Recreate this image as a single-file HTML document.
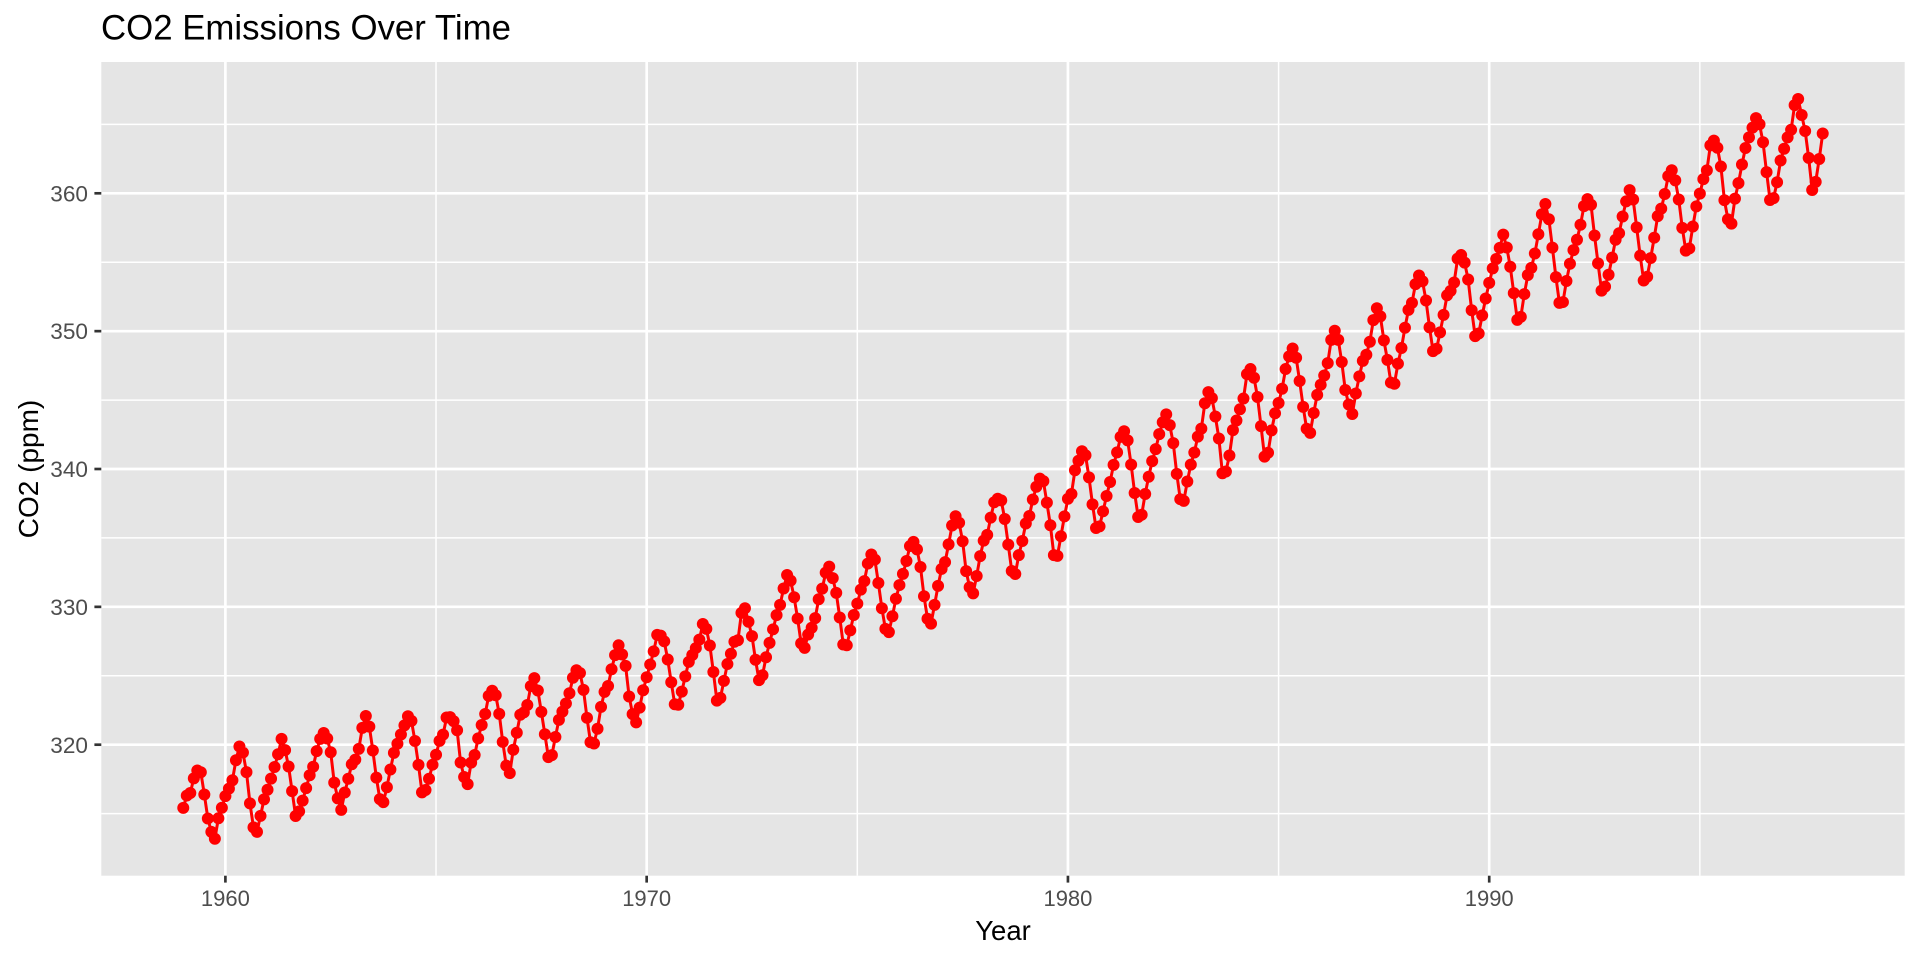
<!DOCTYPE html>
<html>
<head>
<meta charset="utf-8">
<style>
html,body{margin:0;padding:0;background:#fff;}
svg{display:block;}
text{font-family:"Liberation Sans",Arial,Helvetica,sans-serif;}
</style>
</head>
<body>
<svg width="1920" height="960" viewBox="0 0 1920 960" xmlns="http://www.w3.org/2000/svg">
<rect x="0" y="0" width="1920" height="960" fill="#ffffff"/>
<!-- panel -->
<rect x="101.3" y="62" width="1803.4" height="813.7" fill="#E5E5E5"/>
<!-- minor grid -->
<g stroke="#ffffff" stroke-width="1.5" fill="none">
<line x1="101.3" x2="1904.7" y1="813.6" y2="813.6"/>
<line x1="101.3" x2="1904.7" y1="675.8" y2="675.8"/>
<line x1="101.3" x2="1904.7" y1="537.9" y2="537.9"/>
<line x1="101.3" x2="1904.7" y1="400.1" y2="400.1"/>
<line x1="101.3" x2="1904.7" y1="262.2" y2="262.2"/>
<line x1="101.3" x2="1904.7" y1="124.4" y2="124.4"/>
<line y1="62" y2="875.7" x1="436.03" x2="436.03"/>
<line y1="62" y2="875.7" x1="857.3" x2="857.3"/>
<line y1="62" y2="875.7" x1="1278.6" x2="1278.6"/>
<line y1="62" y2="875.7" x1="1699.85" x2="1699.85"/>
</g>
<!-- major grid -->
<g stroke="#ffffff" stroke-width="2.67" fill="none">
<line x1="101.3" x2="1904.7" y1="744.7" y2="744.7"/>
<line x1="101.3" x2="1904.7" y1="606.85" y2="606.85"/>
<line x1="101.3" x2="1904.7" y1="469.0" y2="469.0"/>
<line x1="101.3" x2="1904.7" y1="331.15" y2="331.15"/>
<line x1="101.3" x2="1904.7" y1="193.3" y2="193.3"/>
<line y1="62" y2="875.7" x1="225.4" x2="225.4"/>
<line y1="62" y2="875.7" x1="646.67" x2="646.67"/>
<line y1="62" y2="875.7" x1="1067.94" x2="1067.94"/>
<line y1="62" y2="875.7" x1="1489.21" x2="1489.21"/>
</g>
<!-- data -->
<g transform="matrix(3.51058 0 0 -13.785 183.27 5155.9)">
<polyline fill="none" stroke="#FF0000" stroke-width="3" stroke-linejoin="round" stroke-linecap="butt" vector-effect="non-scaling-stroke" points="0,315.42 1,316.31 2,316.50 3,317.56 4,318.13 5,318.00 6,316.39 7,314.65 8,313.68 9,313.18 10,314.66 11,315.43 12,316.27 13,316.81 14,317.42 15,318.87 16,319.87 17,319.43 18,318.01 19,315.74 20,314.00 21,313.68 22,314.84 23,316.03 24,316.73 25,317.54 26,318.38 27,319.31 28,320.42 29,319.61 30,318.42 31,316.63 32,314.83 33,315.16 34,315.94 35,316.85 36,317.78 37,318.40 38,319.53 39,320.42 40,320.85 41,320.45 42,319.45 43,317.25 44,316.11 45,315.27 46,316.53 47,317.53 48,318.58 49,318.92 50,319.70 51,321.22 52,322.08 53,321.31 54,319.58 55,317.61 56,316.05 57,315.83 58,316.91 59,318.20 60,319.41 61,320.07 62,320.74 63,321.40 64,322.06 65,321.73 66,320.27 67,318.54 68,316.54 69,316.71 70,317.53 71,318.55 72,319.27 73,320.28 74,320.73 75,321.97 76,322.00 77,321.71 78,321.05 79,318.71 80,317.66 81,317.14 82,318.70 83,319.25 84,320.46 85,321.43 86,322.23 87,323.54 88,323.91 89,323.59 90,322.24 91,320.20 92,318.48 93,317.94 94,319.63 95,320.87 96,322.17 97,322.34 98,322.88 99,324.25 100,324.83 101,323.93 102,322.38 103,320.76 104,319.10 105,319.24 106,320.56 107,321.80 108,322.40 109,322.99 110,323.73 111,324.86 112,325.40 113,325.20 114,323.98 115,321.95 116,320.18 117,320.09 118,321.16 119,322.74 120,323.83 121,324.26 122,325.47 123,326.50 124,327.21 125,326.54 126,325.72 127,323.50 128,322.22 129,321.62 130,322.69 131,323.95 132,324.89 133,325.82 134,326.77 135,327.97 136,327.91 137,327.50 138,326.18 139,324.53 140,322.93 141,322.90 142,323.85 143,324.96 144,326.01 145,326.51 146,327.01 147,327.62 148,328.76 149,328.40 150,327.20 151,325.27 152,323.20 153,323.40 154,324.63 155,325.85 156,326.60 157,327.47 158,327.58 159,329.56 160,329.90 161,328.92 162,327.88 163,326.16 164,324.68 165,325.04 166,326.34 167,327.39 168,328.37 169,329.40 170,330.14 171,331.33 172,332.31 173,331.90 174,330.70 175,329.15 176,327.35 177,327.02 178,327.99 179,328.48 180,329.18 181,330.55 182,331.32 183,332.48 184,332.92 185,332.08 186,331.01 187,329.23 188,327.27 189,327.21 190,328.29 191,329.41 192,330.23 193,331.25 194,331.87 195,333.14 196,333.80 197,333.43 198,331.73 199,329.90 200,328.40 201,328.17 202,329.32 203,330.59 204,331.58 205,332.39 206,333.33 207,334.41 208,334.71 209,334.17 210,332.89 211,330.77 212,329.14 213,328.78 214,330.14 215,331.52 216,332.75 217,333.24 218,334.53 219,335.90 220,336.57 221,336.10 222,334.76 223,332.59 224,331.42 225,330.98 226,332.24 227,333.68 228,334.80 229,335.22 230,336.47 231,337.59 232,337.84 233,337.72 234,336.37 235,334.51 236,332.60 237,332.38 238,333.75 239,334.78 240,336.05 241,336.59 242,337.79 243,338.71 244,339.30 245,339.12 246,337.56 247,335.92 248,333.75 249,333.70 250,335.12 251,336.56 252,337.84 253,338.19 254,339.91 255,340.60 256,341.29 257,341.00 258,339.39 259,337.43 260,335.72 261,335.84 262,336.93 263,338.04 264,339.06 265,340.30 266,341.21 267,342.33 268,342.74 269,342.08 270,340.32 271,338.26 272,336.52 273,336.68 274,338.19 275,339.44 276,340.57 277,341.44 278,342.53 279,343.39 280,343.96 281,343.18 282,341.88 283,339.65 284,337.81 285,337.69 286,339.09 287,340.32 288,341.20 289,342.35 290,342.93 291,344.77 292,345.58 293,345.14 294,343.81 295,342.21 296,339.69 297,339.82 298,340.98 299,342.82 300,343.52 301,344.33 302,345.11 303,346.88 304,347.25 305,346.62 306,345.22 307,343.11 308,340.90 309,341.18 310,342.80 311,344.04 312,344.79 313,345.82 314,347.25 315,348.17 316,348.74 317,348.07 318,346.38 319,344.51 320,342.92 321,342.62 322,344.06 323,345.38 324,346.11 325,346.78 326,347.68 327,349.37 328,350.03 329,349.37 330,347.76 331,345.73 332,344.68 333,343.99 334,345.48 335,346.72 336,347.84 337,348.29 338,349.23 339,350.80 340,351.66 341,351.07 342,349.33 343,347.92 344,346.27 345,346.18 346,347.64 347,348.78 348,350.25 349,351.54 350,352.05 351,353.41 352,354.04 353,353.62 354,352.22 355,350.27 356,348.55 357,348.72 358,349.91 359,351.18 360,352.60 361,352.92 362,353.53 363,355.26 364,355.52 365,354.97 366,353.75 367,351.52 368,349.64 369,349.83 370,351.14 371,352.37 372,353.50 373,354.55 374,355.23 375,356.04 376,357.00 377,356.07 378,354.67 379,352.76 380,350.82 381,351.04 382,352.69 383,354.07 384,354.59 385,355.63 386,357.03 387,358.48 388,359.22 389,358.12 390,356.06 391,353.92 392,352.05 393,352.11 394,353.64 395,354.89 396,355.88 397,356.63 398,357.72 399,359.07 400,359.58 401,359.17 402,356.94 403,354.92 404,352.94 405,353.23 406,354.09 407,355.33 408,356.63 409,357.10 410,358.32 411,359.41 412,360.23 413,359.55 414,357.53 415,355.48 416,353.67 417,353.95 418,355.30 419,356.78 420,358.34 421,358.89 422,359.95 423,361.25 424,361.67 425,360.94 426,359.55 427,357.49 428,355.84 429,356.00 430,357.59 431,359.05 432,359.98 433,361.03 434,361.66 435,363.48 436,363.82 437,363.30 438,361.94 439,359.50 440,358.11 441,357.80 442,359.61 443,360.74 444,362.09 445,363.29 446,364.06 447,364.76 448,365.45 449,365.01 450,363.70 451,361.54 452,359.51 453,359.65 454,360.80 455,362.38 456,363.23 457,364.06 458,364.61 459,366.40 460,366.84 461,365.68 462,364.52 463,362.57 464,360.24 465,360.83 466,362.49 467,364.34"/>
<path fill="none" stroke="#FF0000" stroke-width="12" stroke-linecap="round" vector-effect="non-scaling-stroke" d="M0 315.42h.002M1 316.31h.002M2 316.50h.002M3 317.56h.002M4 318.13h.002M5 318.00h.002M6 316.39h.002M7 314.65h.002M8 313.68h.002M9 313.18h.002M10 314.66h.002M11 315.43h.002M12 316.27h.002M13 316.81h.002M14 317.42h.002M15 318.87h.002M16 319.87h.002M17 319.43h.002M18 318.01h.002M19 315.74h.002M20 314.00h.002M21 313.68h.002M22 314.84h.002M23 316.03h.002M24 316.73h.002M25 317.54h.002M26 318.38h.002M27 319.31h.002M28 320.42h.002M29 319.61h.002M30 318.42h.002M31 316.63h.002M32 314.83h.002M33 315.16h.002M34 315.94h.002M35 316.85h.002M36 317.78h.002M37 318.40h.002M38 319.53h.002M39 320.42h.002M40 320.85h.002M41 320.45h.002M42 319.45h.002M43 317.25h.002M44 316.11h.002M45 315.27h.002M46 316.53h.002M47 317.53h.002M48 318.58h.002M49 318.92h.002M50 319.70h.002M51 321.22h.002M52 322.08h.002M53 321.31h.002M54 319.58h.002M55 317.61h.002M56 316.05h.002M57 315.83h.002M58 316.91h.002M59 318.20h.002M60 319.41h.002M61 320.07h.002M62 320.74h.002M63 321.40h.002M64 322.06h.002M65 321.73h.002M66 320.27h.002M67 318.54h.002M68 316.54h.002M69 316.71h.002M70 317.53h.002M71 318.55h.002M72 319.27h.002M73 320.28h.002M74 320.73h.002M75 321.97h.002M76 322.00h.002M77 321.71h.002M78 321.05h.002M79 318.71h.002M80 317.66h.002M81 317.14h.002M82 318.70h.002M83 319.25h.002M84 320.46h.002M85 321.43h.002M86 322.23h.002M87 323.54h.002M88 323.91h.002M89 323.59h.002M90 322.24h.002M91 320.20h.002M92 318.48h.002M93 317.94h.002M94 319.63h.002M95 320.87h.002M96 322.17h.002M97 322.34h.002M98 322.88h.002M99 324.25h.002M100 324.83h.002M101 323.93h.002M102 322.38h.002M103 320.76h.002M104 319.10h.002M105 319.24h.002M106 320.56h.002M107 321.80h.002M108 322.40h.002M109 322.99h.002M110 323.73h.002M111 324.86h.002M112 325.40h.002M113 325.20h.002M114 323.98h.002M115 321.95h.002M116 320.18h.002M117 320.09h.002M118 321.16h.002M119 322.74h.002M120 323.83h.002M121 324.26h.002M122 325.47h.002M123 326.50h.002M124 327.21h.002M125 326.54h.002M126 325.72h.002M127 323.50h.002M128 322.22h.002M129 321.62h.002M130 322.69h.002M131 323.95h.002M132 324.89h.002M133 325.82h.002M134 326.77h.002M135 327.97h.002M136 327.91h.002M137 327.50h.002M138 326.18h.002M139 324.53h.002M140 322.93h.002M141 322.90h.002M142 323.85h.002M143 324.96h.002M144 326.01h.002M145 326.51h.002M146 327.01h.002M147 327.62h.002M148 328.76h.002M149 328.40h.002M150 327.20h.002M151 325.27h.002M152 323.20h.002M153 323.40h.002M154 324.63h.002M155 325.85h.002M156 326.60h.002M157 327.47h.002M158 327.58h.002M159 329.56h.002M160 329.90h.002M161 328.92h.002M162 327.88h.002M163 326.16h.002M164 324.68h.002M165 325.04h.002M166 326.34h.002M167 327.39h.002M168 328.37h.002M169 329.40h.002M170 330.14h.002M171 331.33h.002M172 332.31h.002M173 331.90h.002M174 330.70h.002M175 329.15h.002M176 327.35h.002M177 327.02h.002M178 327.99h.002M179 328.48h.002M180 329.18h.002M181 330.55h.002M182 331.32h.002M183 332.48h.002M184 332.92h.002M185 332.08h.002M186 331.01h.002M187 329.23h.002M188 327.27h.002M189 327.21h.002M190 328.29h.002M191 329.41h.002M192 330.23h.002M193 331.25h.002M194 331.87h.002M195 333.14h.002M196 333.80h.002M197 333.43h.002M198 331.73h.002M199 329.90h.002M200 328.40h.002M201 328.17h.002M202 329.32h.002M203 330.59h.002M204 331.58h.002M205 332.39h.002M206 333.33h.002M207 334.41h.002M208 334.71h.002M209 334.17h.002M210 332.89h.002M211 330.77h.002M212 329.14h.002M213 328.78h.002M214 330.14h.002M215 331.52h.002M216 332.75h.002M217 333.24h.002M218 334.53h.002M219 335.90h.002M220 336.57h.002M221 336.10h.002M222 334.76h.002M223 332.59h.002M224 331.42h.002M225 330.98h.002M226 332.24h.002M227 333.68h.002M228 334.80h.002M229 335.22h.002M230 336.47h.002M231 337.59h.002M232 337.84h.002M233 337.72h.002M234 336.37h.002M235 334.51h.002M236 332.60h.002M237 332.38h.002M238 333.75h.002M239 334.78h.002M240 336.05h.002M241 336.59h.002M242 337.79h.002M243 338.71h.002M244 339.30h.002M245 339.12h.002M246 337.56h.002M247 335.92h.002M248 333.75h.002M249 333.70h.002M250 335.12h.002M251 336.56h.002M252 337.84h.002M253 338.19h.002M254 339.91h.002M255 340.60h.002M256 341.29h.002M257 341.00h.002M258 339.39h.002M259 337.43h.002M260 335.72h.002M261 335.84h.002M262 336.93h.002M263 338.04h.002M264 339.06h.002M265 340.30h.002M266 341.21h.002M267 342.33h.002M268 342.74h.002M269 342.08h.002M270 340.32h.002M271 338.26h.002M272 336.52h.002M273 336.68h.002M274 338.19h.002M275 339.44h.002M276 340.57h.002M277 341.44h.002M278 342.53h.002M279 343.39h.002M280 343.96h.002M281 343.18h.002M282 341.88h.002M283 339.65h.002M284 337.81h.002M285 337.69h.002M286 339.09h.002M287 340.32h.002M288 341.20h.002M289 342.35h.002M290 342.93h.002M291 344.77h.002M292 345.58h.002M293 345.14h.002M294 343.81h.002M295 342.21h.002M296 339.69h.002M297 339.82h.002M298 340.98h.002M299 342.82h.002M300 343.52h.002M301 344.33h.002M302 345.11h.002M303 346.88h.002M304 347.25h.002M305 346.62h.002M306 345.22h.002M307 343.11h.002M308 340.90h.002M309 341.18h.002M310 342.80h.002M311 344.04h.002M312 344.79h.002M313 345.82h.002M314 347.25h.002M315 348.17h.002M316 348.74h.002M317 348.07h.002M318 346.38h.002M319 344.51h.002M320 342.92h.002M321 342.62h.002M322 344.06h.002M323 345.38h.002M324 346.11h.002M325 346.78h.002M326 347.68h.002M327 349.37h.002M328 350.03h.002M329 349.37h.002M330 347.76h.002M331 345.73h.002M332 344.68h.002M333 343.99h.002M334 345.48h.002M335 346.72h.002M336 347.84h.002M337 348.29h.002M338 349.23h.002M339 350.80h.002M340 351.66h.002M341 351.07h.002M342 349.33h.002M343 347.92h.002M344 346.27h.002M345 346.18h.002M346 347.64h.002M347 348.78h.002M348 350.25h.002M349 351.54h.002M350 352.05h.002M351 353.41h.002M352 354.04h.002M353 353.62h.002M354 352.22h.002M355 350.27h.002M356 348.55h.002M357 348.72h.002M358 349.91h.002M359 351.18h.002M360 352.60h.002M361 352.92h.002M362 353.53h.002M363 355.26h.002M364 355.52h.002M365 354.97h.002M366 353.75h.002M367 351.52h.002M368 349.64h.002M369 349.83h.002M370 351.14h.002M371 352.37h.002M372 353.50h.002M373 354.55h.002M374 355.23h.002M375 356.04h.002M376 357.00h.002M377 356.07h.002M378 354.67h.002M379 352.76h.002M380 350.82h.002M381 351.04h.002M382 352.69h.002M383 354.07h.002M384 354.59h.002M385 355.63h.002M386 357.03h.002M387 358.48h.002M388 359.22h.002M389 358.12h.002M390 356.06h.002M391 353.92h.002M392 352.05h.002M393 352.11h.002M394 353.64h.002M395 354.89h.002M396 355.88h.002M397 356.63h.002M398 357.72h.002M399 359.07h.002M400 359.58h.002M401 359.17h.002M402 356.94h.002M403 354.92h.002M404 352.94h.002M405 353.23h.002M406 354.09h.002M407 355.33h.002M408 356.63h.002M409 357.10h.002M410 358.32h.002M411 359.41h.002M412 360.23h.002M413 359.55h.002M414 357.53h.002M415 355.48h.002M416 353.67h.002M417 353.95h.002M418 355.30h.002M419 356.78h.002M420 358.34h.002M421 358.89h.002M422 359.95h.002M423 361.25h.002M424 361.67h.002M425 360.94h.002M426 359.55h.002M427 357.49h.002M428 355.84h.002M429 356.00h.002M430 357.59h.002M431 359.05h.002M432 359.98h.002M433 361.03h.002M434 361.66h.002M435 363.48h.002M436 363.82h.002M437 363.30h.002M438 361.94h.002M439 359.50h.002M440 358.11h.002M441 357.80h.002M442 359.61h.002M443 360.74h.002M444 362.09h.002M445 363.29h.002M446 364.06h.002M447 364.76h.002M448 365.45h.002M449 365.01h.002M450 363.70h.002M451 361.54h.002M452 359.51h.002M453 359.65h.002M454 360.80h.002M455 362.38h.002M456 363.23h.002M457 364.06h.002M458 364.61h.002M459 366.40h.002M460 366.84h.002M461 365.68h.002M462 364.52h.002M463 362.57h.002M464 360.24h.002M465 360.83h.002M466 362.49h.002M467 364.34h.002"/>
</g>
<!-- axis ticks -->
<g stroke="#333333" stroke-width="2.67">
<line x1="94.4" x2="101.3" y1="744.7" y2="744.7"/>
<line x1="94.4" x2="101.3" y1="606.85" y2="606.85"/>
<line x1="94.4" x2="101.3" y1="469.0" y2="469.0"/>
<line x1="94.4" x2="101.3" y1="331.15" y2="331.15"/>
<line x1="94.4" x2="101.3" y1="193.3" y2="193.3"/>
<line y1="875.7" y2="882.6" x1="225.4" x2="225.4"/>
<line y1="875.7" y2="882.6" x1="646.67" x2="646.67"/>
<line y1="875.7" y2="882.6" x1="1067.94" x2="1067.94"/>
<line y1="875.7" y2="882.6" x1="1489.21" x2="1489.21"/>
</g>
<!-- tick labels -->
<g fill="#4D4D4D" font-size="22.6" text-anchor="end">
<text x="88" y="752.8">320</text>
<text x="88" y="614.9">330</text>
<text x="88" y="477.1">340</text>
<text x="88" y="339.2">350</text>
<text x="88" y="201.4">360</text>
</g>
<g fill="#4D4D4D" font-size="22" text-anchor="middle">
<text x="225.4" y="906">1960</text>
<text x="646.67" y="906">1970</text>
<text x="1067.94" y="906">1980</text>
<text x="1489.21" y="906">1990</text>
</g>
<!-- axis titles -->
<text x="1003" y="940" font-size="27.5" fill="#000" text-anchor="middle">Year</text>
<text transform="translate(38,469) rotate(-90)" x="0" y="0" font-size="28" fill="#000" text-anchor="middle">CO2 (ppm)</text>
<!-- title -->
<text x="101" y="39.5" font-size="34.8" fill="#000">CO2 Emissions Over Time</text>
</svg>
</body>
</html>
